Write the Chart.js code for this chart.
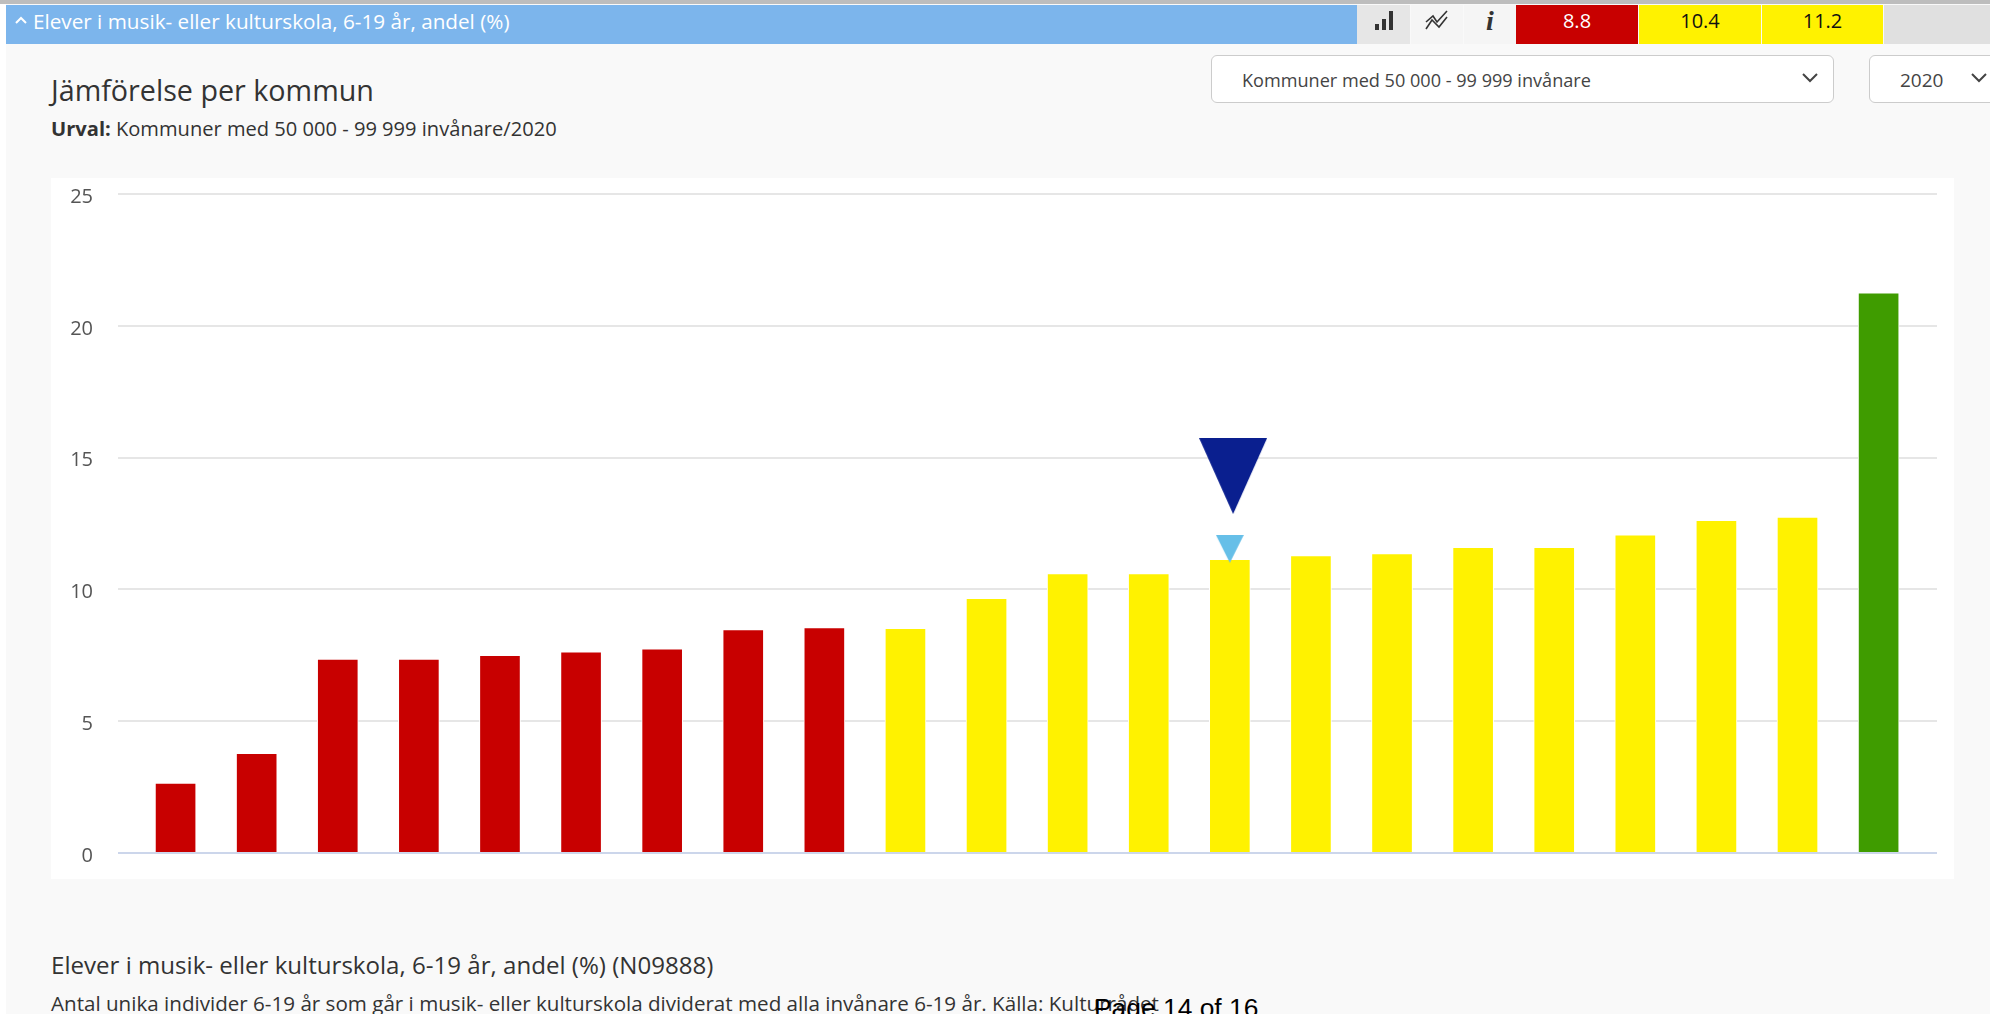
<!DOCTYPE html>
<html lang="sv">
<head>
<meta charset="utf-8">
<title>Jämförelse per kommun</title>
<script src="https://cdn.jsdelivr.net/npm/chart.js@4"></script>
<style>
html, body { margin: 0; padding: 0; }
body { width: 1990px; height: 1014px; overflow: hidden; position: relative; background: #f9f9f9; font-family: "Open Sans", sans-serif; color: #333; }
.abs { position: absolute; white-space: nowrap; }
.cell { position: absolute; top: 5px; height: 39px; line-height: 32px; text-align: center; font-size: 20px; }
.sel { position: absolute; top: 55px; height: 46px; background: #fff; border: 1px solid #ccc; border-radius: 6px; line-height: 48px; font-size: 18.1px; color: #444; box-sizing: content-box; }
#panel { position: absolute; left: 51px; top: 178px; width: 1903px; height: 701px; background: #fff; }
</style>
</head>
<body>
<div class="abs" style="left:0;top:0;width:1990px;height:4px;background:#bdbdbd"></div>
<div class="abs" style="left:0;top:4px;width:6px;height:1010px;background:#fff"></div>
<div class="abs" style="left:6px;top:5px;width:1351px;height:39px;background:#7cb5ec"></div>
<svg class="abs" style="left:14px;top:15px" width="14" height="10"><path d="M2 8 L7 3 L12 8" fill="none" stroke="#fff" stroke-width="2"/></svg>
<div class="abs" style="left:33px;top:5px;line-height:32px;font-size:20.7px;color:#fff">Elever i musik- eller kulturskola, 6-19 år, andel (%)</div>

<div class="cell" style="left:1357px;width:53px;background:#e6e6e6"><svg width="20" height="22" style="margin-top:5px"><path d="M1 14h4v6H1zM8 9h4v11H8zM15 1h4v19h-4z" fill="#333"/></svg></div>
<div class="cell" style="left:1411px;width:52px;background:#f5f5f5"><svg width="24" height="24" style="margin-top:4px"><path d="M1 13 L8 7 L12 13 L22 2 M1 20 L7 11 L14 18 L22 8" fill="none" stroke="#333" stroke-width="1.6"/></svg></div>
<div class="cell" style="left:1464px;width:52px;background:#f5f5f5;font-family:'Liberation Serif';font-style:italic;font-weight:bold;font-size:28px">i</div>
<div class="cell" style="left:1516px;width:122px;background:#c80000;color:#fff">8.8</div>
<div class="cell" style="left:1639px;width:122px;background:#fff200;color:#111">10.4</div>
<div class="cell" style="left:1762px;width:121px;background:#fff200;color:#111">11.2</div>
<div class="cell" style="left:1884px;width:106px;background:#e0e0e0"></div>

<div class="sel" style="left:1211px;width:621px"><span style="margin-left:30px">Kommuner med 50 000 - 99 999 invånare</span>
  <svg class="abs" style="right:14px;top:16px" width="18" height="12"><path d="M2 2 L9 9 L16 2" fill="none" stroke="#444" stroke-width="2"/></svg></div>
<div class="sel" style="left:1869px;width:130px;font-size:19px"><span style="margin-left:30px">2020</span>
  <svg class="abs" style="left:100px;top:16px" width="18" height="12"><path d="M2 2 L9 9 L16 2" fill="none" stroke="#444" stroke-width="2"/></svg></div>

<div class="abs" style="left:51px;top:70px;font-size:28.7px;line-height:40px">Jämförelse per kommun</div>
<div class="abs" style="left:51px;top:116px;font-size:20.1px;line-height:26px"><b>Urval:</b> Kommuner med 50 000 - 99 999 invånare/2020</div>

<div id="panel"><canvas id="kommunChart" width="1903" height="701"></canvas></div>

<div class="abs" style="left:51px;top:950px;font-size:24.1px;line-height:30px">Elever i musik- eller kulturskola, 6-19 år, andel (%) (N09888)</div>
<div class="abs" style="left:51px;top:990px;font-size:20.6px;line-height:26px">Antal unika individer 6-19 år som går i musik- eller kulturskola dividerat med alla invånare 6-19 år. Källa: Kulturrådet</div>
<div class="abs" style="left:1094px;top:992px;font-family:'Liberation Sans';font-size:26.4px;line-height:32px;color:#000">Page 14 of 16</div>

<script>
const kommuner = [1, 2, 3, 4, 5, 6, 7, 8, 9, 10, 11, 12, 13, 14, 15, 16, 17, 18, 19, 20, 21, 22];
const andel = [2.65, 3.78, 7.36, 7.36, 7.5, 7.63, 7.75, 8.48, 8.55, 8.52, 9.66, 10.6, 10.6, 11.14, 11.28, 11.36, 11.6, 11.6, 12.07, 12.62, 12.74, 21.25];
const grupp = ['röd', 'röd', 'röd', 'röd', 'röd', 'röd', 'röd', 'röd', 'röd', 'gul', 'gul', 'gul', 'gul', 'gul', 'gul', 'gul', 'gul', 'gul', 'gul', 'gul', 'gul', 'grön'];
const yTicks = [0, 5, 10, 15, 20, 25];
const markorRiket = [{ x: 14.04, y: 14.3 }];
const markorKommun = [{ x: 14, y: 11.54 }];

const gruppFarg = { 'röd': '#c80000', 'gul': '#fff200', 'grön': '#3f9c00' };

function triangel(w, h, farg) {
    const c = document.createElement('canvas');
    c.width = w;
    c.height = h;
    const g = c.getContext('2d');
    g.fillStyle = farg;
    g.beginPath();
    g.moveTo(0, 0);
    g.lineTo(w, 0);
    g.lineTo(w / 2, h);
    g.closePath();
    g.fill();
    return c;
}

const ctx = document.getElementById('kommunChart').getContext('2d');
new Chart(ctx, {
    data: {
        datasets: [
            {
                type: 'scatter',
                data: markorRiket,
                pointStyle: triangel(68, 76, '#0a1f8f'),
                order: 0
            },
            {
                type: 'scatter',
                data: markorKommun,
                pointStyle: triangel(28, 28, '#66bfe8'),
                order: 0
            },
            {
                type: 'bar',
                data: kommuner.map((k, i) => ({ x: k, y: andel[i] })),
                backgroundColor: grupp.map(g => gruppFarg[g]),
                borderColor: '#ffffff',
                borderWidth: 1,
                borderSkipped: 'bottom',
                barThickness: 41,
                order: 1
            }
        ]
    },
    options: {
        responsive: false,
        animation: false,
        layout: { padding: { top: 16, bottom: 26, right: 17 } },
        plugins: { legend: { display: false }, tooltip: { enabled: false } },
        scales: {
            x: { type: 'linear', display: false, offset: false, min: 0.29, max: 22.72 },
            y: {
                min: 0,
                max: 25,
                afterBuildTicks: s => { s.ticks = yTicks.map(v => ({ value: v })); },
                afterFit: s => { s.width = 67; s.paddingTop = 0; s.paddingBottom = 0; },
                border: { display: false },
                grid: {
                    drawTicks: false,
                    lineWidth: 2,
                    color: c => c.tick.value === 0 ? '#ccd6eb' : '#e6e6e6'
                },
                ticks: {
                    color: '#555555',
                    padding: 25,
                    labelOffset: 3,
                    font: { family: 'Open Sans', size: 20 }
                }
            }
        }
    }
});
</script>
</body>
</html>
